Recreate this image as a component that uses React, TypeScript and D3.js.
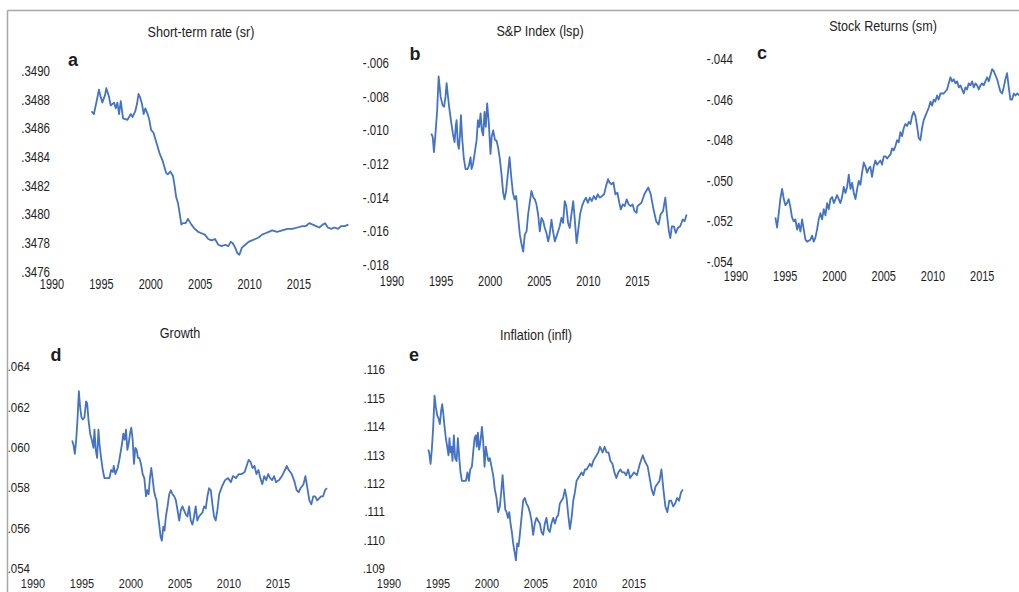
import React from "react";
import * as d3 from "d3";

// ---------- DATA ----------
const yearTicks = [1990, 1995, 2000, 2005, 2010, 2015];

const srTicks = [0.3476, 0.3478, 0.348, 0.3482, 0.3484, 0.3486, 0.3488, 0.349];
const lspTicks = [-0.018, -0.016, -0.014, -0.012, -0.01, -0.008, -0.006];
const smTicks = [-0.054, -0.052, -0.05, -0.048, -0.046, -0.044];
const growthTicks = [0.054, 0.056, 0.058, 0.06, 0.062, 0.064];
const inflTicks = [0.109, 0.11, 0.111, 0.112, 0.113, 0.114, 0.115, 0.116];

const srData: [number, number][] = [[1994.00,.34872],[1994.24,.34870],[1994.58,.34881],[1994.75,.34887],[1994.92,.34882],[1995.09,.34878],[1995.36,.34883],[1995.50,.34888],[1995.77,.34882],[1995.94,.34876],[1996.28,.34878],[1996.45,.34874],[1996.62,.34878],[1996.79,.34870],[1996.96,.34879],[1997.19,.34867],[1997.64,.34866],[1997.98,.34870],[1998.16,.34868],[1998.43,.34872],[1998.60,.34877],[1998.76,.34884],[1998.90,.34882],[1999.11,.34877],[1999.28,.34870],[1999.45,.34874],[1999.68,.34870],[1999.85,.34866],[2000.03,.34859],[2000.27,.34857],[2000.53,.34851],[2000.87,.34843],[2001.22,.34837],[2001.55,.34829],[2001.72,.34828],[2001.97,.34830],[2002.24,.34827],[2002.41,.34820],[2002.57,.34812],[2002.75,.34808],[2002.92,.34801],[2003.09,.34793],[2003.26,.34794],[2003.53,.34794],[2003.76,.34797],[2004.11,.34793],[2004.45,.34790],[2004.79,.34788],[2005.13,.34787],[2005.47,.34786],[2005.81,.34783],[2006.15,.34782],[2006.50,.34783],[2006.83,.34779],[2007.17,.34778],[2007.52,.34779],[2007.85,.34778],[2008.09,.34781],[2008.30,.34780],[2008.54,.34777],[2008.77,.34773],[2008.97,.34772],[2009.22,.34777],[2009.56,.34779],[2009.89,.34781],[2010.24,.34782],[2010.58,.34783],[2010.91,.34784],[2011.26,.34786],[2011.60,.34787],[2011.94,.34788],[2012.28,.34789],[2012.79,.34788],[2013.30,.34789],[2013.82,.34790],[2014.32,.34790],[2014.84,.34791],[2015.35,.34792],[2015.70,.34792],[2016.04,.34794],[2016.38,.34793],[2016.73,.34792],[2017.06,.34791],[2017.40,.34793],[2017.64,.34794],[2017.92,.34791],[2018.25,.34790],[2018.60,.34791],[2018.94,.34790],[2019.28,.34792],[2019.62,.34792],[2020.00,.34793]];

const lspData: [number, number][] = [[1994.00,-.0102],[1994.15,-.0104],[1994.27,-.0113],[1994.40,-.0104],[1994.60,-.0088],[1994.75,-.0068],[1994.95,-.0080],[1995.15,-.0085],[1995.30,-.0086],[1995.45,-.0080],[1995.56,-.0072],[1995.70,-.0080],[1995.86,-.0088],[1996.05,-.0096],[1996.20,-.0102],[1996.37,-.0107],[1996.50,-.0097],[1996.58,-.0094],[1996.70,-.0108],[1996.81,-.0111],[1996.92,-.0103],[1997.02,-.0091],[1997.15,-.0105],[1997.32,-.0117],[1997.49,-.0123],[1997.70,-.0123],[1997.83,-.0121],[1998.00,-.0116],[1998.10,-.0123],[1998.25,-.0120],[1998.44,-.0113],[1998.61,-.0106],[1998.75,-.0094],[1998.88,-.0098],[1999.02,-.0090],[1999.15,-.0100],[1999.28,-.0103],[1999.42,-.0089],[1999.55,-.0098],[1999.69,-.0084],[1999.85,-.0095],[2000.03,-.0114],[2000.15,-.0104],[2000.30,-.0100],[2000.50,-.0106],[2000.64,-.0106],[2000.80,-.0110],[2000.98,-.0117],[2001.15,-.0126],[2001.32,-.0137],[2001.46,-.0141],[2001.62,-.0136],[2001.83,-.0124],[2001.97,-.0116],[2002.15,-.0128],[2002.31,-.0137],[2002.48,-.0141],[2002.64,-.0139],[2002.82,-.0150],[2003.02,-.0162],[2003.20,-.0168],[2003.36,-.0172],[2003.52,-.0162],[2003.70,-.0160],[2003.86,-.0150],[2004.05,-.0142],[2004.20,-.0136],[2004.40,-.0140],[2004.55,-.0141],[2004.71,-.0144],[2004.88,-.0150],[2005.05,-.0160],[2005.22,-.0152],[2005.40,-.0154],[2005.56,-.0158],[2005.73,-.0161],[2005.90,-.0166],[2006.05,-.0162],[2006.24,-.0153],[2006.40,-.0160],[2006.58,-.0166],[2006.75,-.0163],[2006.92,-.0160],[2007.08,-.0157],[2007.25,-.0152],[2007.42,-.0155],[2007.59,-.0142],[2007.75,-.0145],[2007.93,-.0155],[2008.10,-.0158],[2008.27,-.0150],[2008.45,-.0142],[2008.60,-.0152],[2008.80,-.0167],[2008.95,-.0160],[2009.15,-.0150],[2009.35,-.0145],[2009.55,-.0142],[2009.75,-.0140],[2009.95,-.0143],[2010.15,-.0140],[2010.35,-.0142],[2010.55,-.0139],[2010.75,-.0141],[2010.95,-.0138],[2011.15,-.0140],[2011.40,-.0139],[2011.60,-.0138],[2011.80,-.0133],[2012.00,-.0129],[2012.15,-.0131],[2012.35,-.0132],[2012.55,-.0131],[2012.75,-.0138],[2012.95,-.0137],[2013.15,-.0143],[2013.30,-.0147],[2013.50,-.0144],[2013.70,-.0145],[2013.90,-.0141],[2014.10,-.0144],[2014.30,-.0145],[2014.50,-.0144],[2014.70,-.0148],[2014.90,-.0149],[2015.0,-.0145],[2015.4,-.0143],[2015.7,-.0138],[2016.1,-.0134],[2016.35,-.0138],[2016.6,-.0146],[2016.9,-.0154],[2017.15,-.0156],[2017.35,-.0150],[2017.6,-.0148],[2017.83,-.0140],[2018.0,-.0150],[2018.2,-.0160],[2018.34,-.0164],[2018.5,-.0157],[2018.7,-.0157],[2018.9,-.0161],[2019.1,-.0158],[2019.35,-.0157],[2019.6,-.0153],[2019.8,-.0154],[2020.0,-.0150]];

const smData: [number, number][] = [[1994.00,-.0518],[1994.17,-.0523],[1994.34,-.0516],[1994.50,-.0509],[1994.68,-.0504],[1994.85,-.0509],[1995.02,-.0512],[1995.18,-.0511],[1995.35,-.0509],[1995.52,-.0513],[1995.69,-.0518],[1995.86,-.0520],[1996.03,-.0519],[1996.20,-.0524],[1996.37,-.0521],[1996.54,-.0525],[1996.71,-.0519],[1996.88,-.0524],[1997.05,-.0529],[1997.22,-.0530],[1997.55,-.0529],[1997.72,-.0527],[1997.89,-.0530],[1998.06,-.0528],[1998.23,-.0524],[1998.40,-.0519],[1998.57,-.0516],[1998.74,-.0519],[1998.91,-.0514],[1999.08,-.0517],[1999.25,-.0511],[1999.42,-.0514],[1999.59,-.0509],[1999.76,-.0508],[1999.93,-.0511],[2000.10,-.0509],[2000.26,-.0507],[2000.43,-.0509],[2000.60,-.0511],[2000.77,-.0508],[2000.94,-.0503],[2001.11,-.0506],[2001.28,-.0503],[2001.45,-.0497],[2001.62,-.0504],[2001.79,-.0501],[2001.96,-.0506],[2002.13,-.0509],[2002.30,-.0504],[2002.46,-.0500],[2002.63,-.0502],[2002.80,-.0496],[2002.97,-.0491],[2003.14,-.0493],[2003.31,-.0496],[2003.47,-.0494],[2003.64,-.0493],[2003.81,-.0498],[2003.98,-.0493],[2004.15,-.0490],[2004.32,-.0492],[2004.49,-.0491],[2004.66,-.0490],[2004.83,-.0492],[2005.00,-.0488],[2005.17,-.0488],[2005.34,-.0489],[2005.51,-.0488],[2005.68,-.0487],[2005.85,-.0484],[2006.01,-.0485],[2006.18,-.0483],[2006.35,-.0480],[2006.52,-.0481],[2006.69,-.0476],[2006.86,-.0478],[2007.03,-.0474],[2007.20,-.0472],[2007.37,-.0473],[2007.54,-.0471],[2007.71,-.0472],[2007.88,-.0468],[2008.04,-.0466],[2008.21,-.0468],[2008.38,-.0473],[2008.55,-.0479],[2008.72,-.0480],[2008.89,-.0474],[2009.06,-.0470],[2009.23,-.0468],[2009.40,-.0466],[2009.57,-.0464],[2009.74,-.0461],[2009.91,-.0463],[2010.07,-.0460],[2010.24,-.0461],[2010.41,-.0458],[2010.58,-.0460],[2010.75,-.0457],[2011.09,-.0457],[2011.43,-.0455],[2011.60,-.0452],[2011.77,-.0449],[2011.94,-.0451],[2012.11,-.0450],[2012.28,-.0452],[2012.45,-.0451],[2012.62,-.0454],[2012.79,-.0453],[2012.95,-.0455],[2013.12,-.0457],[2013.29,-.0454],[2013.46,-.0455],[2013.63,-.0452],[2013.80,-.0453],[2013.97,-.0451],[2014.14,-.0454],[2014.31,-.0452],[2014.48,-.0453],[2014.65,-.0455],[2014.82,-.0453],[2014.98,-.0452],[2015.15,-.0453],[2015.32,-.0451],[2015.49,-.0449],[2015.66,-.0451],[2015.83,-.0448],[2016.00,-.0445],[2016.17,-.0446],[2016.34,-.0448],[2016.51,-.0450],[2016.67,-.0453],[2016.84,-.0456],[2017.01,-.0457],[2017.18,-.0454],[2017.35,-.0450],[2017.52,-.0447],[2017.69,-.0454],[2017.86,-.0460],[2018.03,-.0460],[2018.20,-.0457],[2018.37,-.0458],[2018.54,-.0457],[2018.80,-.0458],[2019.0,-.0456],[2019.5,-.0455],[2020.0,-.0454]];

const growthData: [number, number][] = [[1994.00,.06036],[1994.14,.06012],[1994.27,.0597],[1994.41,.0604],[1994.54,.0614],[1994.68,.0628],[1994.81,.0620],[1994.95,.0615],[1995.08,.0614],[1995.25,.0615],[1995.42,.0623],[1995.53,.0622],[1995.66,.0614],[1995.83,.0607],[1996.00,.0604],[1996.17,.0600],[1996.27,.0609],[1996.40,.0599],[1996.54,.0595],[1996.68,.0609],[1996.78,.0602],[1996.95,.0595],[1997.12,.0589],[1997.29,.0585],[1997.53,.0585],[1997.80,.0585],[1997.97,.0589],[1998.14,.0588],[1998.24,.0591],[1998.40,.0587],[1998.64,.0590],[1998.81,.0594],[1998.98,.0599],[1999.08,.0602],[1999.22,.0607],[1999.36,.0604],[1999.49,.0609],[1999.63,.0599],[1999.76,.0602],[1999.90,.0607],[2000.03,.0610],[2000.17,.0604],[2000.30,.0592],[2000.44,.0600],[2000.58,.0599],[2000.71,.0595],[2000.85,.0595],[2001.02,.0592],[2001.19,.0587],[2001.36,.0585],[2001.53,.0576],[2001.66,.0579],[2001.80,.0577],[2001.93,.0585],[2002.07,.0590],[2002.20,.0585],[2002.34,.0579],[2002.47,.0576],[2002.61,.0574],[2002.75,.0567],[2002.88,.0562],[2003.02,.0556],[2003.15,.0554],[2003.29,.0561],[2003.42,.0559],[2003.56,.0566],[2003.73,.0571],[2003.90,.0577],[2004.07,.0579],[2004.24,.0577],[2004.41,.0576],[2004.58,.0574],[2004.75,.0569],[2004.92,.0564],[2005.08,.0569],[2005.25,.0571],[2005.42,.0569],[2005.59,.0567],[2005.76,.0566],[2005.93,.0571],[2006.10,.0564],[2006.27,.0562],[2006.44,.0566],[2006.60,.0571],[2006.77,.0564],[2006.94,.0566],[2007.12,.0567],[2007.29,.0568],[2007.46,.0571],[2007.63,.0570],[2007.80,.0576],[2007.97,.0580],[2008.14,.0579],[2008.31,.0572],[2008.47,.0566],[2008.64,.0564],[2008.81,.0569],[2009.0,.0577],[2009.3,.0581],[2009.6,.0584],[2009.9,.0585],[2010.2,.0583],[2010.4,.0586],[2010.7,.0585],[2011.0,.0587],[2011.3,.0587],[2011.6,.0588],[2011.8,.0591],[2012.0,.0594],[2012.2,.0593],[2012.4,.0590],[2012.6,.0591],[2012.8,.0587],[2013.0,.0589],[2013.2,.0585],[2013.4,.0582],[2013.6,.0586],[2013.8,.0584],[2014.0,.0587],[2014.2,.0585],[2014.4,.0584],[2014.6,.0586],[2014.8,.0583],[2015.1,.0584],[2015.4,.0586],[2015.7,.0589],[2015.9,.0591],[2016.1,.0589],[2016.4,.0587],[2016.7,.0583],[2016.9,.0579],[2017.1,.0578],[2017.3,.0580],[2017.6,.0582],[2017.8,.0586],[2018.0,.0580],[2018.2,.0574],[2018.4,.0572],[2018.6,.0576],[2018.8,.0576],[2019.0,.0574],[2019.2,.0575],[2019.4,.0576],[2019.6,.0576],[2019.8,.0579],[2020.0,.0580]];

const inflData: [number, number][] = [[1994.00,.1132],[1994.10,.1131],[1994.24,.1127],[1994.37,.1132],[1994.51,.1140],[1994.65,.1151],[1994.78,.1147],[1994.92,.1144],[1995.05,.1143],[1995.19,.1141],[1995.33,.1146],[1995.43,.1148],[1995.53,.1145],[1995.67,.1140],[1995.80,.1136],[1995.94,.1133],[1996.07,.1130],[1996.17,.1136],[1996.27,.1131],[1996.38,.1133],[1996.48,.1128],[1996.62,.1137],[1996.75,.1129],[1996.90,.1128],[1997.03,.1136],[1997.17,.1129],[1997.30,.1124],[1997.44,.1121],[1997.65,.1121],[1997.84,.1121],[1998.01,.1124],[1998.15,.1121],[1998.29,.1125],[1998.46,.1126],[1998.59,.1131],[1998.73,.1136],[1998.86,.1137],[1998.96,.1133],[1999.07,.1138],[1999.20,.1132],[1999.34,.1135],[1999.48,.1140],[1999.61,.1135],[1999.75,.1126],[1999.88,.1133],[2000.02,.1130],[2000.15,.1128],[2000.29,.1129],[2000.46,.1126],[2000.63,.1123],[2000.80,.1118],[2000.97,.1115],[2001.14,.1110],[2001.31,.1112],[2001.45,.1117],[2001.59,.1123],[2001.72,.1117],[2001.86,.1111],[2002.00,.1110],[2002.13,.1108],[2002.27,.1110],[2002.40,.1106],[2002.54,.1103],[2002.67,.1099],[2002.81,.1096],[2002.95,.1093],[2003.08,.1099],[2003.22,.1098],[2003.35,.1102],[2003.52,.1108],[2003.69,.1114],[2003.86,.1115],[2004.03,.1113],[2004.20,.1112],[2004.37,.1110],[2004.54,.1107],[2004.71,.1102],[2004.88,.1106],[2005.05,.1108],[2005.22,.1107],[2005.39,.1106],[2005.56,.1103],[2005.73,.1102],[2005.90,.1106],[2006.07,.1108],[2006.24,.1104],[2006.41,.1103],[2006.58,.1106],[2006.76,.1108],[2006.93,.1106],[2007.10,.1108],[2007.27,.1109],[2007.43,.1113],[2007.60,.1114],[2007.77,.1115],[2007.95,.1118],[2008.12,.1115],[2008.29,.1109],[2008.46,.1104],[2008.63,.1108],[2008.80,.1114],[2008.97,.1117],[2009.14,.1121],[2009.31,.1122],[2009.48,.1123],[2009.65,.1124],[2009.82,.1123],[2009.99,.1125],[2010.16,.1125],[2010.33,.1126],[2010.50,.1127],[2010.67,.1126],[2010.84,.1128],[2011.01,.1129],[2011.18,.1130],[2011.35,.1131],[2011.52,.1133],[2011.8,.1131],[2012.0,.1133],[2012.2,.1131],[2012.4,.1131],[2012.6,.1128],[2012.8,.1127],[2013.0,.1124],[2013.2,.1122],[2013.4,.1124],[2013.6,.1125],[2013.8,.1124],[2014.0,.1124],[2014.2,.1123],[2014.4,.1125],[2014.6,.1122],[2014.8,.1123],[2015.0,.1124],[2015.3,.1123],[2015.6,.1127],[2015.9,.1130],[2016.1,.1128],[2016.4,.1126],[2016.6,.1122],[2016.8,.1118],[2017.0,.1116],[2017.2,.1119],[2017.4,.1120],[2017.6,.1121],[2017.8,.1125],[2018.0,.1118],[2018.2,.1112],[2018.4,.1110],[2018.6,.1114],[2018.8,.1114],[2019.0,.1112],[2019.2,.1113],[2019.4,.1115],[2019.6,.1114],[2019.8,.1117],[2020.0,.1118]];

// ---------- LAYOUT ----------
type Panel = {
  title: string; letter: string; data: [number, number][]; ticks: number[]; digits: number;
  x0: number; pxYear: number; yBot: number; yTop: number;
  labelRight: number; yearY: number; titleX: number; titleY: number; letterX: number; letterY: number;
  fs: number;
};

const panels: Panel[] = [
  { title: "Short-term rate (sr)", letter: "a", data: srData, ticks: srTicks, digits: 4,
    x0: 52, pxYear: 9.88, yBot: 272, yTop: 71, labelRight: 50, yearY: 285, titleX: 201, titleY: 32, letterX: 73, letterY: 60, fs: 14 },
  { title: "S&P Index (lsp)", letter: "b", data: lspData, ticks: lspTicks, digits: 3,
    x0: 392, pxYear: 9.82, yBot: 265, yTop: 63, labelRight: 389, yearY: 282, titleX: 540, titleY: 31, letterX: 415, letterY: 54, fs: 14 },
  { title: "Stock Returns (sm)", letter: "c", data: smData, ticks: smTicks, digits: 3,
    x0: 736, pxYear: 9.85, yBot: 262, yTop: 59, labelRight: 733, yearY: 277, titleX: 883, titleY: 26, letterX: 762, letterY: 53, fs: 14 },
  { title: "Growth", letter: "d", data: growthData, ticks: growthTicks, digits: 3,
    x0: 33, pxYear: 9.8, yBot: 569, yTop: 367, labelRight: 30, yearY: 584, titleX: 180, titleY: 333, letterX: 56, letterY: 355, fs: 13 },
  { title: "Inflation (infl)", letter: "e", data: inflData, ticks: inflTicks, digits: 3,
    x0: 389, pxYear: 9.8, yBot: 569, yTop: 370, labelRight: 385, yearY: 584, titleX: 536, titleY: 335, letterX: 414, letterY: 355, fs: 13 },
];

const FONT = "'Liberation Sans', Arial, sans-serif";
const TEXT = "#1e1e1e";
const LINE = "#4472C4";

function fmt(v: number, digits: number) {
  return d3.format(`.${digits}f`)(v).replace("\u2212", "-").replace("0.", ".");
}

function PanelView({ p }: { p: Panel }) {
  const x = d3.scaleLinear().domain([1990, 2020]).range([p.x0, p.x0 + 30 * p.pxYear]);
  const y = d3.scaleLinear().domain([p.ticks[0], p.ticks[p.ticks.length - 1]]).range([p.yBot, p.yTop]);
  const line = d3.line<[number, number]>().x(d => x(d[0])).y(d => y(d[1]));
  const k = 14 / p.fs;
  return (
    <g>
      <text transform={`translate(${p.titleX},${p.titleY}) scale(0.9,1)`} textAnchor="middle" dominantBaseline="central"
        fontFamily={FONT} fontSize={14} fill={TEXT}>{p.title}</text>
      <text x={p.letterX} y={p.letterY} textAnchor="middle" dominantBaseline="central"
        fontFamily={FONT} fontSize={18} fontWeight="bold" fill={TEXT}>{p.letter}</text>
      {p.ticks.map(t => (
        <text key={t} transform={`translate(${p.labelRight},${y(t)}) scale(${0.82 * k},1)`} textAnchor="end" dominantBaseline="central"
          fontFamily={FONT} fontSize={p.fs} fill={TEXT}>{fmt(t, p.digits)}</text>
      ))}
      {yearTicks.map(yr => (
        <text key={yr} transform={`translate(${x(yr)},${p.yearY}) scale(${0.78 * k},1)`} textAnchor="middle" dominantBaseline="central"
          fontFamily={FONT} fontSize={p.fs} fill={TEXT}>{yr}</text>
      ))}
      <path d={line(p.data) || ""} fill="none" stroke={LINE} strokeWidth={1.8} strokeLinejoin="round" />
    </g>
  );
}

export default function App() {
  return (
    <svg width={1019} height={592} style={{ position: "absolute", left: 0, top: 0, background: "#fff" }}>
      <rect x={0} y={0} width={1019} height={592} fill="#fff" />
      <line x1={7.5} y1={10.5} x2={1019} y2={10.5} stroke="#a8a8a8" strokeWidth={1.5} />
      <line x1={7.5} y1={10.5} x2={7.5} y2={592} stroke="#a8a8a8" strokeWidth={1.5} />
      {panels.map(p => <PanelView key={p.letter} p={p} />)}
    </svg>
  );
}
